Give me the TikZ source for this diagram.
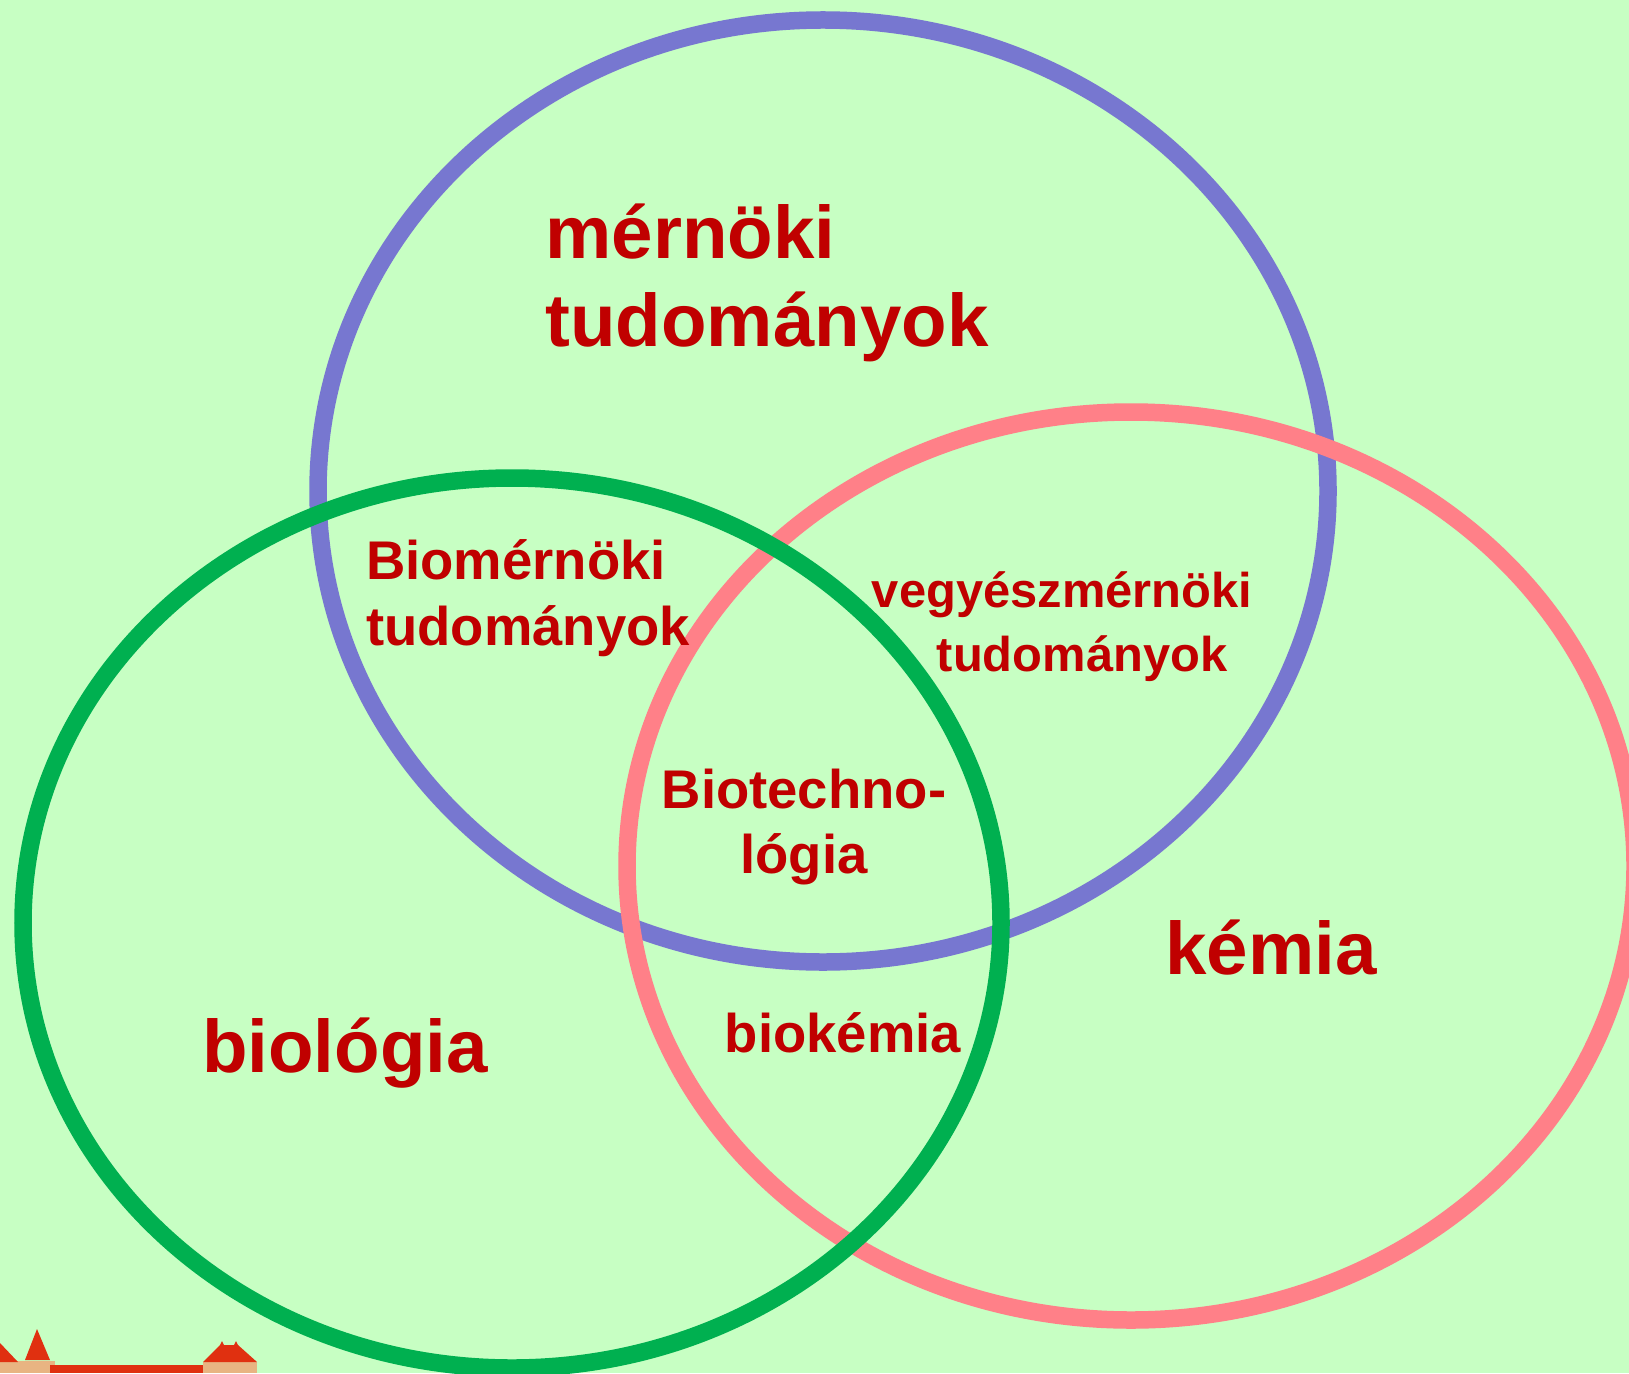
\documentclass[tikz,border=0pt]{standalone}
\usepackage{fontspec}
\setmainfont{Liberation Sans}
\usepackage{tikz}
\usepackage{xcolor}
\definecolor{cBack}{RGB}{199,255,195}
\definecolor{cBlue}{RGB}{119,119,208}
\definecolor{cRose}{RGB}{255,128,136}
\definecolor{cGreen}{RGB}{0,176,80}
\definecolor{cText}{RGB}{192,0,0}
\definecolor{cRoof}{RGB}{224,48,16}
\definecolor{cWall}{RGB}{232,180,130}
\tikzset{
	ring/.style   ={line width=1.75mm},
	bigtext/.style={font=\fontsize{21.2}{25}\selectfont\bfseries, text=cText, align=left, inner sep=0pt},
	midtext/.style={font=\fontsize{15.5}{18.6}\selectfont\bfseries, text=cText, align=left, inner sep=0pt},
	smalltext/.style={font=\fontsize{13.9}{17}\selectfont\bfseries, text=cText, inner sep=0pt},
}
\begin{document}
\begin{tikzpicture}
	\useasboundingbox (0,0) rectangle (16.29,13.73);
	\clip (0,0) rectangle (16.29,13.73);
	\fill[cBack] (0,0) rectangle (16.29,13.73);
	% the three fields
	\draw[ring, cBlue]  (8.23,8.82) ellipse (5.05 and 4.71);
	\draw[ring, cRose]  (11.31,5.07) ellipse (5.04 and 4.54);
	\draw[ring, cGreen] (5.12,4.50) ellipse (4.89 and 4.45);
	% building in the corner
	\fill[cWall] (0,0) rectangle (0.55,0.12);
	\fill[cWall] (2.03,0) rectangle (2.57,0.11);
	\fill[cRoof] (0,0.30) -- (0.18,0.11) -- (0,0.11) -- cycle;
	\fill[cRoof] (0.37,0.44) -- (0.50,0.13) -- (0.25,0.13) -- cycle;
	\fill[cRoof] (0.50,0) rectangle (2.03,0.08);
	\fill[cRoof] (2.03,0.11) -- (2.20,0.28) -- (2.22,0.32) -- (2.24,0.28) -- (2.34,0.28) -- (2.36,0.32) -- (2.38,0.28) -- (2.57,0.11) -- cycle;
	% labels
	\node[bigtext] (mern) at (7.67,10.90) {mérnöki\\tudományok};
	\node[bigtext] (biol) at (3.45,3.195) {biológia};
	\node[bigtext] (kem) at (12.71,4.25) {kémia};
	\node[midtext] (biom) at (5.28,7.75) {Biomérnöki\\tudományok};
	\node[midtext, align=center] (biot) at (8.04,5.46) {Biotechno-\\lógia};
	\node[midtext] (biok) at (8.43,3.40) {biokémia};
	\node[smalltext] (vegy) at (10.62,7.78) {vegyészmérnöki};
	\node[smalltext] (tud) at (10.82,7.14) {tudományok};
\end{tikzpicture}
\end{document}
